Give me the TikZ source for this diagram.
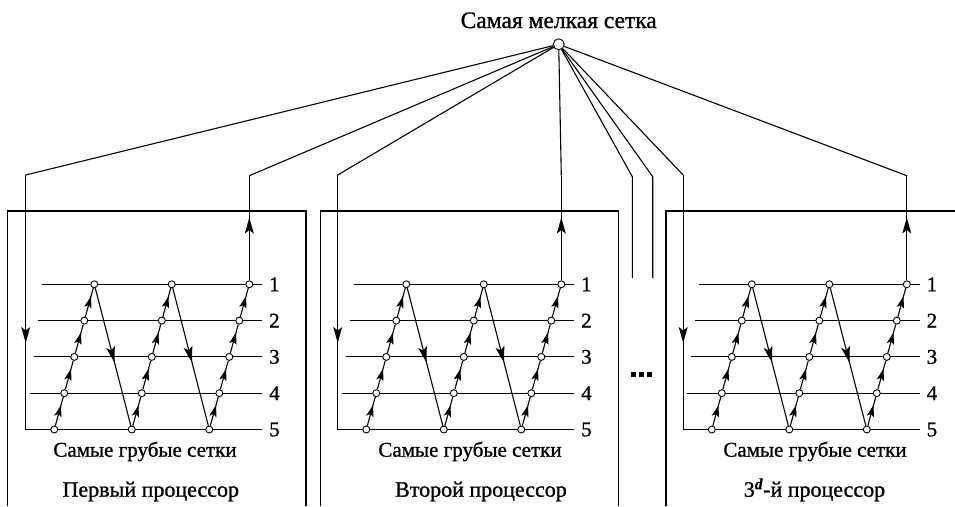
\documentclass[tikz,border=0pt]{standalone}
\usepackage{fontspec}
\setmainfont{Liberation Serif}
\newfontfamily\labelfont{Liberation Serif}[FakeBold=1]
\usetikzlibrary{decorations.markings}
\pgfdeclarelayer{wires}
\pgfsetlayers{wires,main}

% filled arrowhead with a notched back, tip at the mark position
\newcommand\headshape[2]{%
  \fill (0pt,0pt) -- (-#1,0.5*#2) -- (-0.78*#1,0pt) -- (-#1,-0.5*#2) -- cycle;}

\begin{document}
\begin{tikzpicture}[x=1pt,y=-1pt,
  wire/.style={line width=1.1pt},
  gridpt/.style={circle,draw,fill=white,line width=0.9pt,inner sep=0pt,minimum size=7pt},
  hubpt/.style={circle,draw,fill=white,line width=0.9pt,inner sep=0pt,minimum size=11pt},
  levellabel/.style={anchor=west,inner xsep=7pt,inner ysep=0pt,font=\labelfont\fontsize{21}{21}\selectfont},
  headtext/.style={anchor=base,inner sep=0pt,font=\labelfont\fontsize{23.5}{23.5}\selectfont},
  coarsetext/.style={anchor=base,inner sep=0pt,font=\labelfont\fontsize{21}{21}\selectfont},
  proctext/.style={anchor=base,inner sep=0pt,font=\labelfont\fontsize{22}{22}\selectfont},
  arrow at/.style={postaction={decorate},decoration={markings,
    mark=at position #1 with {\headshape{16pt}{9pt}}}},
  short arrow at/.style={postaction={decorate},decoration={markings,
    mark=at position #1 with {\headshape{12pt}{7.5pt}}}}]
\useasboundingbox (0,0) rectangle (955,506);

% finest grid
\node[headtext] (title) at (558.7,28) {Самая мелкая сетка};
\node[hubpt] (hub) at (558.7,44.3) {};

% three processors: grid levels 1..5, three V-cycles each
\foreach \p/\ox in {a/0,b/312,c/657.5}{
  \begin{scope}[xshift=\ox pt]
    \foreach \c in {0,1,2}
      \foreach \l in {1,...,5}
        \node[gridpt] (\p-\c-\l) at ({54.3+77.5*\c+(5-\l)*10},{284.3+(\l-1)*36.3}) {};
    \foreach \l in {1,...,5}{
      \node[levellabel] (\p-lab\l) at (262,{284.3+(\l-1)*36.3}) {\l};
      \coordinate (\p-s\l) at ({25.7+(5-\l)*4},{284.3+(\l-1)*36.3});
    }
    \coordinate (\p-in) at (25.7,175);
    \coordinate (\p-out) at (249.3,175.7);
  \end{scope}
}

% coarse-grid captions and processor names
\node[coarsetext] (a-coarse) at (145,456.7) {Самые грубые сетки};
\node[coarsetext] (b-coarse) at (470,456.7) {Самые грубые сетки};
\node[coarsetext] (c-coarse) at (815,456.7) {Самые грубые сетки};
\node[proctext] (a-name) at (150.8,496.7) {Первый процессор};
\node[proctext] (b-name) at (481,496.7) {Второй процессор};
\node[proctext] (c-name) at (814.5,496.7) {3\textsuperscript{\textbf{\textit{d}}}-й процессор};

% processors not shown
\coordinate (m1) at (632.3,176.7);
\coordinate (m1e) at (632.3,278);
\coordinate (m2) at (652.7,176.7);
\coordinate (m2e) at (652.7,278);
\foreach \x in {633.5,641.5,649.5}
  \fill (\x-2.5,371.7) rectangle (\x+2.5,376.7);

\begin{pgfonlayer}{wires}
  % processor frames
  \draw[wire] (7.5,506) |- (306,211) -- (306,506);
  \draw[wire] (320.7,506) |- (618.3,211) -- (618.3,506);
  \draw[wire] (666,506) |- (955,211);

  \draw[wire] (hub) -- (m1) -- (m1e);
  \draw[wire] (hub) -- (m2) -- (m2e);

  \foreach \p in {a,b,c}{
    \foreach \l in {1,...,5}
      \draw[wire] (\p-s\l) -- (\p-lab\l.west);
    \draw[wire] (hub) -- (\p-in);
    \draw[wire,arrow at=0.66] (\p-in) -- (\p-s5);
    \foreach \c in {0,1,2}
      \foreach \l/\m in {5/4,4/3,3/2,2/1}
        \draw[wire,short arrow at=0.72] (\p-\c-\l) -- (\p-\c-\m);
    \draw[wire,arrow at=0.54] (\p-0-1) -- (\p-1-5);
    \draw[wire,arrow at=0.54] (\p-1-1) -- (\p-2-5);
    \draw[wire,arrow at=0.6] (\p-2-1) -- (\p-out);
    \draw[wire] (\p-out) -- (hub);
  }
\end{pgfonlayer}
\end{tikzpicture}
\end{document}
